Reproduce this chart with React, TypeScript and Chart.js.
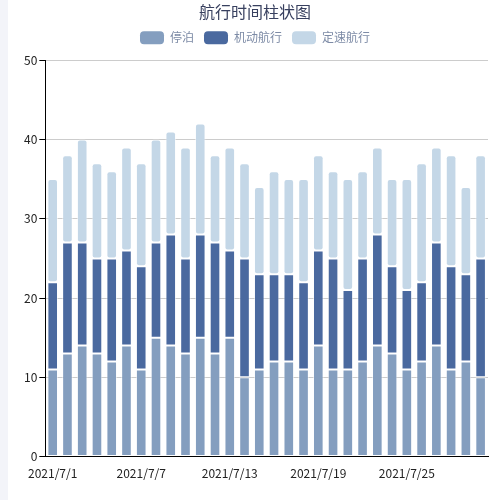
import React, { useEffect, useRef } from "react";
import { Chart, registerables } from "chart.js";

Chart.register(...registerables);

const categories = [
  "2021/7/1", "2021/7/2", "2021/7/3", "2021/7/4", "2021/7/5", "2021/7/6",
  "2021/7/7", "2021/7/8", "2021/7/9", "2021/7/10", "2021/7/11", "2021/7/12",
  "2021/7/13", "2021/7/14", "2021/7/15", "2021/7/16", "2021/7/17", "2021/7/18",
  "2021/7/19", "2021/7/20", "2021/7/21", "2021/7/22", "2021/7/23", "2021/7/24",
  "2021/7/25", "2021/7/26", "2021/7/27", "2021/7/28", "2021/7/29", "2021/7/30",
];

// 停泊
const berthing = [11, 13, 14, 13, 12, 14, 11, 15, 14, 13, 15, 13, 15, 10, 11, 12, 12, 11, 14, 11, 11, 12, 14, 13, 11, 12, 14, 11, 12, 10];
// 机动航行
const maneuvering = [11, 14, 13, 12, 13, 12, 13, 12, 14, 12, 13, 14, 11, 15, 12, 11, 11, 11, 12, 14, 10, 13, 14, 11, 10, 10, 13, 13, 11, 15];
// 定速航行
const cruising = [13, 11, 13, 12, 11, 13, 13, 13, 13, 14, 14, 11, 13, 12, 11, 13, 12, 13, 12, 11, 14, 11, 11, 11, 14, 15, 12, 14, 11, 13];

const yTicks = [0, 10, 20, 30, 40, 50];
const labelEvery = 6;

const FONT = "'Noto Sans CJK SC', 'Noto Sans', sans-serif";

const legendMargin = {
  id: "legendMargin",
  beforeInit(chart: any) {
    const legend = chart.legend;
    if (!legend) return;
    const orig = legend.fit;
    legend.fit = function () {
      orig.call(this);
      this.height += 6;
    };
  },
};

export default function App() {
  const ref = useRef<HTMLCanvasElement | null>(null);

  useEffect(() => {
    if (!ref.current) return;
    const seg = {
      borderRadius: 3,
      borderSkipped: false as const,
      borderWidth: 1,
      borderColor: "rgba(255,255,255,0.55)",
      barPercentage: 0.72,
      categoryPercentage: 1,
    };
    const chart = new Chart(ref.current, {
      type: "bar",
      data: {
        labels: categories,
        datasets: [
          { label: "停泊", data: berthing, backgroundColor: "#849ebf", ...seg },
          { label: "机动航行", data: maneuvering, backgroundColor: "#4a699f", ...seg },
          { label: "定速航行", data: cruising, backgroundColor: "#c4d7e7", ...seg },
        ],
      },
      plugins: [legendMargin],
      options: {
        animation: false,
        responsive: true,
        maintainAspectRatio: false,
        layout: { padding: { right: 12, bottom: 17, left: 14, top: 0 } },
        plugins: {
          title: {
            display: true,
            text: "航行时间柱状图",
            color: "#38405f",
            font: { family: FONT, size: 16, weight: "normal" },
            padding: { top: 2, bottom: 0 },
          },
          legend: {
            display: true,
            labels: {
              color: "#7d8ba6",
              font: { family: FONT, size: 12 },
              boxWidth: 24,
              boxHeight: 13,
              useBorderRadius: true,
              borderRadius: 4,
              padding: 10,
              generateLabels: (c) =>
                c.data.datasets.map((d, i) => ({
                  text: d.label as string,
                  fillStyle: d.backgroundColor as string,
                  strokeStyle: d.backgroundColor as string,
                  lineWidth: 0,
                  borderRadius: 4,
                  hidden: !c.isDatasetVisible(i),
                  datasetIndex: i,
                  fontColor: "#7d8ba6",
                })),
            },
          },
          tooltip: { enabled: false },
        },
        scales: {
          x: {
            stacked: true,
            grid: { display: false },
            border: { display: true, color: "#000", width: 1 },
            ticks: {
              autoSkip: false,
              maxRotation: 0,
              color: "#222",
              font: { family: FONT, size: 12 },
              padding: 2,
              callback: (_v, i) => (i % labelEvery === 0 ? categories[i] : ""),
            },
          },
          y: {
            stacked: true,
            min: yTicks[0],
            max: yTicks[yTicks.length - 1],
            afterBuildTicks: (axis) => {
              axis.ticks = yTicks.map((v) => ({ value: v }));
            },
            grid: { color: "#cccccc", tickColor: "#000", tickLength: 6 },
            border: { display: true, color: "#000", width: 1 },
            ticks: {
              color: "#222",
              font: { family: FONT, size: 12 },
              padding: 2,
            },
          },
        },
      },
    });
    return () => chart.destroy();
  }, []);

  return (
    <div style={{ display: "flex", width: 500, height: 500, position: "fixed", left: 0, top: 0, background: "#fff" }}>
      <div style={{ width: 8, height: 500, background: "#f3f4f9" }} />
      <div style={{ width: 492, height: 500, position: "relative" }}>
        <canvas ref={ref} />
      </div>
    </div>
  );
}
